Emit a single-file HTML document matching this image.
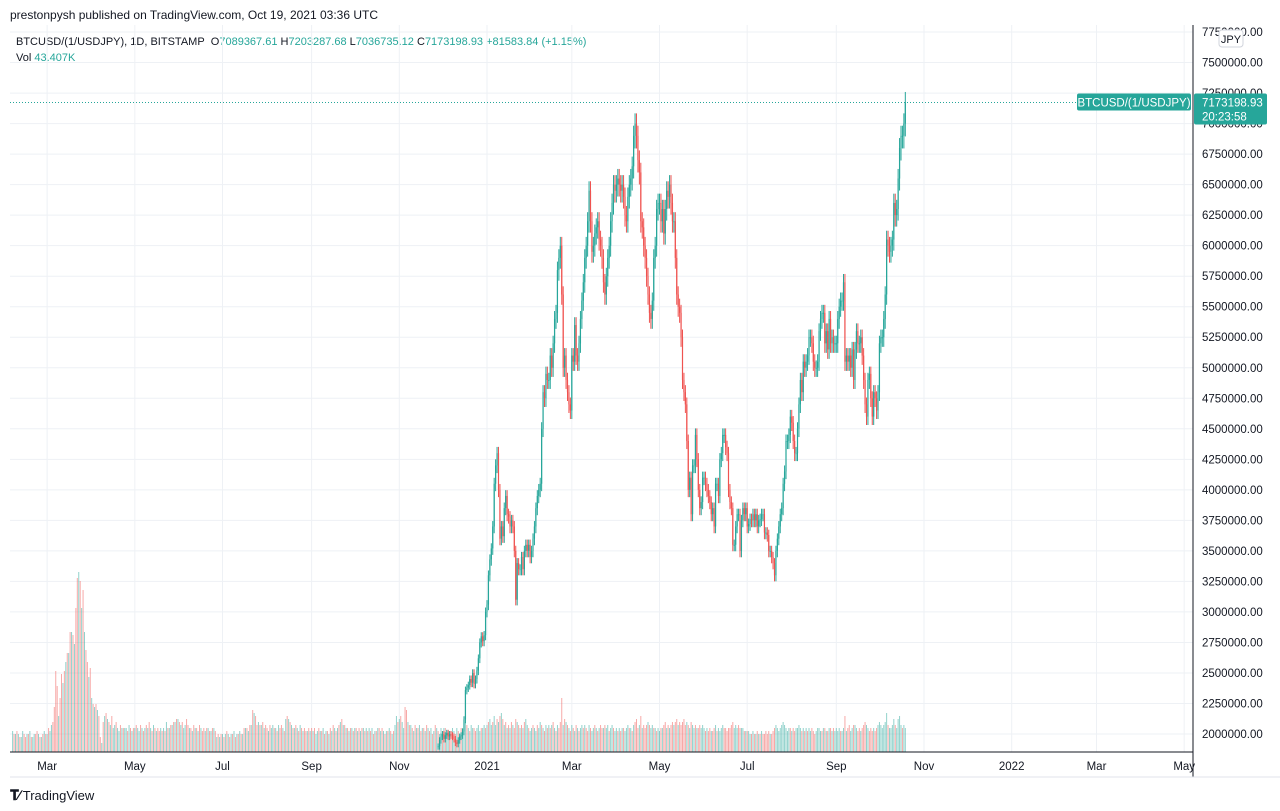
<!DOCTYPE html>
<html><head><meta charset="utf-8"><style>
html,body{margin:0;padding:0;background:#fff;width:1280px;height:811px;overflow:hidden;font-family:"Liberation Sans",sans-serif;color:#131722}
.t{position:absolute;white-space:nowrap}
</style></head><body>
<div class="t" style="left:10px;top:8px;font-size:12px;">prestonpysh published on TradingView.com, Oct 19, 2021 03:36 UTC</div>
<div class="t" style="left:16px;top:36px;font-size:11px;">BTCUSD/(1/USDJPY), 1D, BITSTAMP&nbsp;&nbsp;<span style="color:#131722">O</span><span style="color:#26a69a">7089367.61</span> <span>H</span><span style="color:#26a69a">7203287.68</span> <span>L</span><span style="color:#26a69a">7036735.12</span> <span>C</span><span style="color:#26a69a">7173198.93 +81583.84 (+1.15%)</span></div>
<div class="t" style="left:16px;top:52px;font-size:11px;">Vol <span style="color:#26a69a">43.407K</span></div>
<svg id="chart" width="1280" height="811" style="position:absolute;left:0;top:0" xmlns="http://www.w3.org/2000/svg">
<defs><clipPath id="plotclip"><rect x="10" y="25" width="1183" height="727"/></clipPath></defs>
<g id="grid"></g><g id="vol" clip-path="url(#plotclip)"></g><g id="candles" clip-path="url(#plotclip)"></g><g id="axes"></g>
</svg>
<div class="t" style="left:10px;top:787px;font-size:13px;"><b style="font-size:14px;letter-spacing:-1px">&#x1D413;&#x2215;</b> TradingView</div>
<script>
const priceTicks=[2000000,2250000,2500000,2750000,3000000,3250000,3500000,3750000,4000000,4250000,4500000,4750000,5000000,5250000,5500000,5750000,6000000,6250000,6500000,6750000,7000000,7250000,7500000,7750000];
const monthLabels=["Mar","May","Jul","Sep","Nov","2021","Mar","May","Jul","Sep","Nov","2022","Mar","May"];
const monthDays=[-306,-245,-184,-122,-61,0,59,120,181,243,304,365,424,485];
// closes in 10k JPY, daily from 2020-11-28 (day -34)
const closeStart=-34;
const closes=[190,195,198,
200,196,199,201,198,200,199,198,196,193,192,195,198,199,202,212,236,238,240,245,242,250,241,245,252,262,275,280,276,281,300,
306,330,343,352,370,405,420,430,400,360,370,362,385,395,380,378,370,375,370,350,310,340,335,335,345,335,350,355,350,355,345,
350,360,370,385,395,400,405,450,480,475,495,490,490,510,500,520,540,545,580,590,600,560,500,510,490,480,470,465,
510,505,535,510,505,520,540,555,570,590,600,620,645,620,595,600,610,615,620,605,600,590,570,560,575,590,600,620,635,650,645,
650,655,650,645,650,640,625,620,640,650,655,665,690,700,690,670,660,620,615,600,590,575,560,545,540,555,590,600,630,635,
635,620,630,610,630,645,640,650,635,620,620,590,560,550,545,525,490,480,470,440,400,410,380,420,420,445,425,400,385,390,410,
410,405,400,395,390,380,385,370,405,405,395,425,430,445,445,435,430,400,390,385,355,355,370,380,380,350,375,385,380,385,
370,372,376,375,380,375,380,370,375,376,380,380,365,365,363,350,350,345,340,330,350,360,370,380,385,405,415,440,440,445,460,
455,440,430,430,450,470,490,480,505,500,505,510,525,525,520,505,500,500,505,530,540,545,545,520,530,515,540,520,525,520,520,
520,540,550,555,555,570,505,510,505,510,500,515,490,515,530,520,520,525,510,490,470,460,490,495,475,460,480,475,465,480,
520,525,525,540,560,605,600,595,600,605,635,625,630,655,680,690,690,700,717.3];
// signed daily volume in K (negative = down day), from 2020-02-06 (day -330)
const volStart=-330;
const volumes=[7,-6,6,-7,6,-5,5,7,-6,-5,6,-6,7,-5,5,6,-6,-7,6,-5,5,-6,7,-6,
6,-8,7,9,-10,-15,-27,-22,12,-18,-26,23,-27,30,-33,33,-40,40,-39,36,-48,-58,60,-57,48,-54,40,-34,-30,25,-28,
18,-16,15,-16,14,-12,-5,3,-10,12,-13,11,-10,9,-12,8,9,-10,8,7,-9,8,-8,8,8,-7,9,-8,7,-8,
8,-9,8,7,-9,8,-7,8,-9,8,-10,8,-7,9,-8,7,-8,-7,8,-7,8,-7,10,-8,8,-9,9,-10,10,-11,11,
-10,9,-10,8,9,-11,-9,8,-8,7,-9,8,-8,7,-9,8,-7,-8,7,-8,8,-7,7,-8,8,-7,5,-6,5,-6,
6,-5,6,-7,6,-5,6,-6,7,-5,6,-6,7,-6,6,-8,8,-8,7,-9,9,-14,13,-12,-9,10,-9,9,-10,8,-9,
-8,7,-9,8,9,-8,8,-7,9,-8,-9,8,-7,11,-12,11,-10,9,-8,8,-9,8,-7,9,-8,7,-8,-7,7,-8,7,
-8,7,-8,6,7,-8,7,-7,8,-6,7,-7,6,-8,7,-9,8,-7,8,-9,10,-11,9,-9,8,-8,7,-8,8,-7,
8,-8,7,-8,7,-8,8,-7,8,-7,8,-7,8,-6,7,-7,8,-8,7,-8,7,-6,7,-7,8,-7,6,-7,9,12,-10,
11,-12,10,8,-15,-14,10,-9,9,-8,7,-9,8,-8,9,-7,8,-8,7,-9,8,-7,8,-6,7,-9,8,-7,6,8,
-7,8,-8,6,7,-7,-6,8,7,-6,8,-7,6,-8,8,9,10,-9,8,-7,9,8,-8,-7,8,9,7,-8,8,9,-8,
9,-10,11,9,-10,12,9,-11,10,-12,13,-11,9,-10,8,-9,8,-10,9,-8,-11,10,-9,8,-9,8,-10,11,9,-8,7,
8,-9,8,7,-9,8,10,-9,8,-7,9,-8,9,-8,9,-10,8,-7,9,-8,-10,-18,9,-11,10,-9,8,-7,
9,-8,7,-9,8,-7,8,9,-8,9,-8,-7,9,-8,7,8,-9,8,-7,8,-9,-8,8,-9,8,9,-7,8,9,-8,7,
8,-7,8,-7,8,-8,7,8,9,-8,8,-7,9,-10,-11,-8,9,-12,8,-9,-8,-9,10,-9,8,9,-8,8,-7,8,
7,-8,8,-9,-10,8,-9,8,-9,-10,9,-10,-11,9,-10,-9,-10,-11,-9,10,-9,8,-10,9,8,-9,8,-8,-9,8,9,
8,-7,8,-7,-8,7,-7,-8,9,-7,8,7,8,9,-8,-8,-7,-8,-8,-9,-10,8,9,8,-9,-8,8,8,-7,7,
-7,7,6,-6,7,-6,6,-7,6,-6,7,-6,-6,-7,-6,-7,6,-6,-7,-8,9,8,7,8,9,10,9,8,7,8,-8,
7,-8,-7,8,8,9,8,-7,8,-7,8,-7,8,7,-8,-7,-6,7,8,8,7,-7,8,-8,7,-7,8,-8,7,-8,7,
8,7,8,-7,7,8,-12,7,-8,-9,7,8,-9,9,8,-7,-8,7,-8,-9,-10,9,8,-7,-8,-7,8,-7,-8,9,
10,9,8,9,10,13,-9,8,8,9,11,-9,8,11,12,9,-8,9,8];
const lastPrice=7173198.93;

const NS="http://www.w3.org/2000/svg";
const X=d=>487+d*1.4375;
const Y=p=>734-(p-2000000)/250000*30.52;
const VY=v=>752-Math.abs(v)*3;
const UP="#26a69a",DN="#ef5350";
function mk(tag,parent,attrs){const e=document.createElementNS(NS,tag);for(const k in attrs)e.setAttribute(k,attrs[k]);document.getElementById(parent).appendChild(e);return e;}

priceTicks.forEach(p=>{
  const l=mk('line','grid',{x1:10,x2:1193,y1:Y(p),y2:Y(p),stroke:'#eef1f5','stroke-width':1});
  
  
  const t=mk('text','axes',{x:1202,y:Y(p)+4,'font-size':11.5,fill:'#131722','font-family':'Liberation Sans, sans-serif'});
  t.textContent=p.toFixed(2);
  
  
});
monthDays.forEach((d,i)=>{
  const l=mk('line','grid',{x1:X(d),x2:X(d),y1:25,y2:752,stroke:'#eef1f5','stroke-width':1});
  
  
  const t=mk('text','axes',{x:X(d),y:770,'font-size':11.5,fill:'#131722','text-anchor':'middle','font-family':'Liberation Sans, sans-serif'});
  t.textContent=monthLabels[i];
  
  
});
volumes.forEach((v,i)=>{
  const x=X(volStart+i);
  const r=mk('rect','vol',{x:x-0.5,y:VY(v),width:1,height:752-VY(v),fill:v>=0?UP:DN,opacity:0.5});
  
  
});
closes.forEach((c,i)=>{
  const o=i>0?closes[i-1]:c;
  const x=X(closeStart+i);
  const hi=Math.max(o,c)*1.012, lo=Math.min(o,c)*0.985;
  const col=c>=o?UP:DN;
  const w=mk('line','candles',{x1:x,x2:x,y1:Y(hi*1e4),y2:Y(lo*1e4),stroke:col,'stroke-width':1});
  
  
  const top=Y(Math.max(o,c)*1e4),bot=Y(Math.min(o,c)*1e4);
  const b=mk('rect','candles',{x:x-0.6,y:top,width:1.2,height:Math.max(1,bot-top),fill:col});
  
  
});
let a=mk('line','axes',{x1:1193,x2:1193,y1:25,y2:777,stroke:'#131722','stroke-width':1});


a=mk('line','axes',{x1:10,x2:1193,y1:752,y2:752,stroke:'#131722','stroke-width':1});


a=mk('line','axes',{x1:10,x2:1280,y1:777,y2:777,stroke:'#e0e3eb','stroke-width':1});


const ly=Y(lastPrice);
let pl=mk('line','axes',{x1:10,x2:1077,y1:ly,y2:ly,stroke:UP,'stroke-width':1,'stroke-dasharray':'1,2'});


let r1=mk('rect','axes',{x:1077,y:ly-9,width:114,height:17,rx:2,fill:UP});


let t1=mk('text','axes',{x:1134,y:ly+4,'font-size':11.5,fill:'#fff','text-anchor':'middle','font-family':'Liberation Sans, sans-serif'});
t1.textContent='BTCUSD/(1/USDJPY)';


let r2=mk('rect','axes',{x:1194,y:ly-9,width:73,height:31,rx:2,fill:UP});


let t2=mk('text','axes',{x:1202,y:ly+4,'font-size':11.5,fill:'#fff','font-family':'Liberation Sans, sans-serif'});
t2.textContent='7173198.93';


let t3=mk('text','axes',{x:1202,y:ly+18,'font-size':11.5,fill:'#fff','font-family':'Liberation Sans, sans-serif'});
t3.textContent='20:23:58';


let r3=mk('rect','axes',{x:1219,y:30,width:24,height:17,rx:3,fill:'#fff',stroke:'#d1d4dc'});


let t4=mk('text','axes',{x:1231,y:43,'font-size':11,fill:'#131722','text-anchor':'middle','font-family':'Liberation Sans, sans-serif'});
t4.textContent='JPY';


</script>
</body></html>
